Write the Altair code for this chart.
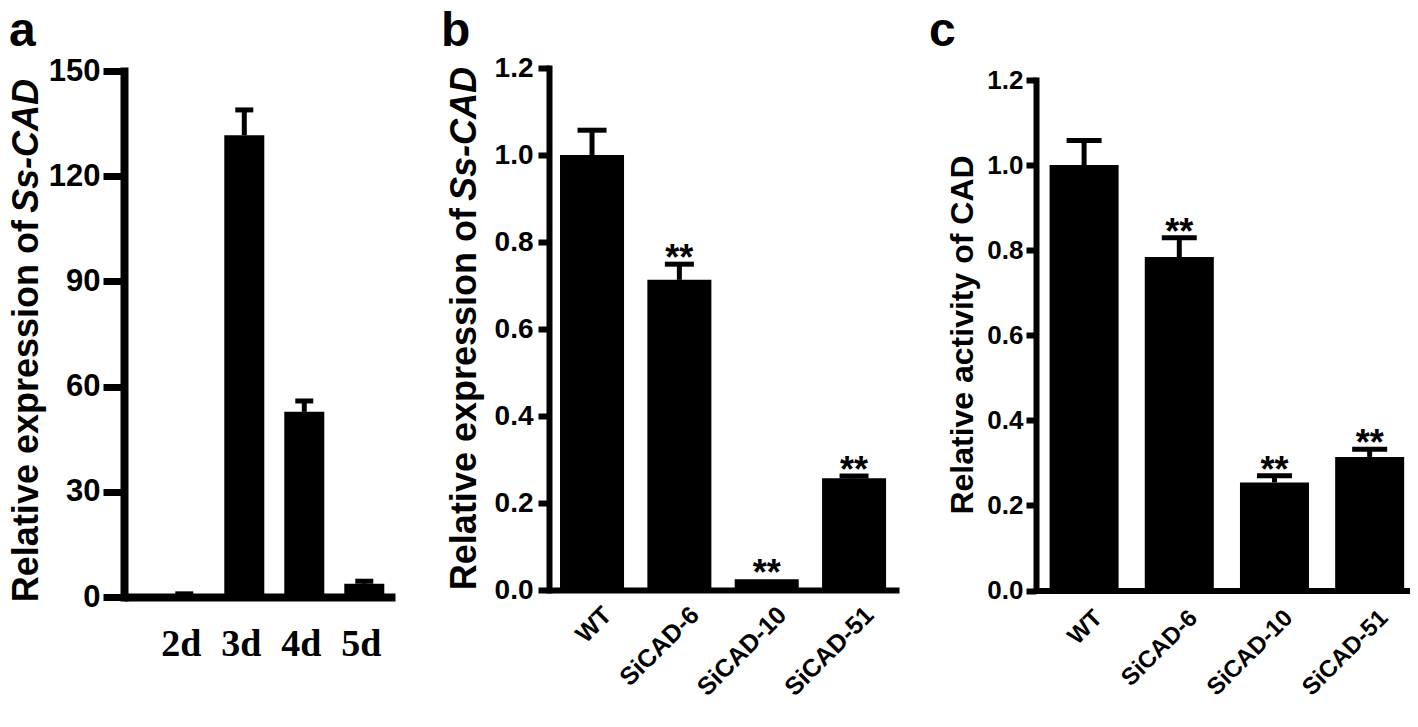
import altair as alt
import pandas as pd

# ---------------- data ----------------
days = ["2d", "3d", "4d", "5d"]
expr_a = [0.5, 131.7, 52.8, 3.8]
err_a = [0.4, 7.2, 3.1, 0.7]
stars_a = ["", "", "", ""]

lines = ["WT", "SiCAD-6", "SiCAD-10", "SiCAD-51"]
expr_b = [1.0, 0.713, 0.025, 0.257]
err_b = [0.057, 0.036, 0.0, 0.005]
stars_b = ["", "**", "**", "**"]

act_c = [1.0, 0.784, 0.254, 0.314]
err_c = [0.058, 0.045, 0.016, 0.018]
stars_c = ["", "**", "**", "**"]

yticks_a = [0, 30, 60, 90, 120, 150]
yticks_bc = [0.0, 0.2, 0.4, 0.6, 0.8, 1.0, 1.2]

SANS = "Liberation Sans, Arial, Helvetica, sans-serif"
SERIF = "Liberation Serif, Times New Roman, serif"

H = 529  # common plot height


def txt(x, y, s, **kw):
    return alt.Chart(pd.DataFrame({"t": [s]})).mark_text(color="black", **kw).encode(
        x=alt.value(x), y=alt.value(y), text="t:N"
    )


def panel(cats, vals, errs, stars, width, yrange, ydomain, yaxis, xaxis, cap,
          pinner, pouter, align, extra, star_size=36):
    df = pd.DataFrame({
        "cat": cats,
        "value": vals,
        "upper": [v + e for v, e in zip(vals, errs)],
        "err": errs,
        "star": stars,
    })
    xs = alt.Scale(domain=cats, paddingInner=pinner, paddingOuter=pouter, align=align)
    ys = alt.Scale(domain=ydomain, range=yrange, nice=False, zero=True)
    base = alt.Chart(df)
    X = lambda ax=None: alt.X("cat:N", sort=cats, scale=xs, title=None,
                               **({"axis": ax} if ax is not None else {}))
    bars = base.mark_bar(color="black").encode(
        x=X(xaxis),
        y=alt.Y("value:Q", scale=ys, title=None, axis=yaxis),
    )
    rule = base.mark_rule(color="black", strokeWidth=5, opacity=1).encode(
        x=X(), y=alt.Y("value:Q", scale=ys, title=None), y2="upper:Q"
    ).transform_filter("datum.err > 0")
    tick = base.mark_tick(color="black", thickness=5, size=cap, opacity=1).encode(
        x=X(), y=alt.Y("upper:Q", scale=ys, title=None)
    ).transform_filter("datum.err > 0")
    star = base.mark_text(font=SANS, fontSize=star_size, fontWeight="bold",
                          baseline="alphabetic", dy=6, color="black").encode(
        x=X(), y=alt.Y("upper:Q", scale=ys, title=None), text="star:N"
    )
    return alt.layer(bars, rule, tick, star, *extra).properties(width=width, height=H)


def spacer(w):
    return alt.Chart(pd.DataFrame({"z": [0]})).mark_point(opacity=0).encode(
        x=alt.X("z:Q", axis=None), y=alt.Y("z:Q", axis=None)
    ).properties(width=w, height=H)


def yaxis(values, fmt, size, tsize, twidth, dwidth, pad):
    return alt.Axis(values=values, format=fmt, labelFont=SANS, labelFontSize=size,
                    labelFontWeight="bold", labelColor="black", tickSize=tsize,
                    tickWidth=twidth, tickColor="black", domainWidth=dwidth,
                    domainColor="black", domainCap="square", labelPadding=pad,
                    grid=False, title=None, labelOverlap=False)


def xaxis_rot(size, dwidth, pad, off, loff):
    return alt.Axis(labelAngle=-45, labelAlign="right", labelBaseline="top",
                    labelFont=SANS, labelFontSize=size, labelFontWeight="bold",
                    labelColor="black", ticks=False, tickSize=0, domainWidth=dwidth,
                    domainColor="black", labelPadding=pad, offset=off,
                    labelOffset=loff, labelOverlap=False, title=None, labelLimit=400)


# ---------------- panel a ----------------
a_extra = [
    txt(-86, 152, "Relative expression of", angle=270, align="right", baseline="alphabetic",
        font=SANS, fontSize=36, fontWeight="bold"),
    txt(-86, 145, "Ss-CAD", angle=270, align="left", baseline="alphabetic",
        font=SANS, fontSize=36, fontWeight="bold", fontStyle="italic"),
    txt(-115, -22, "a", align="left", baseline="alphabetic", font=SANS, fontSize=48,
        fontWeight="bold"),
]
pa = panel(
    days, expr_a, err_a, stars_a, 271, [529, 3], [0, 150],
    yaxis(yticks_a, "d", 31, 21, 7, 8, 3),
    alt.Axis(labelAngle=0, labelFont=SERIF, labelFontSize=38, labelFontWeight="bold",
             labelColor="black", ticks=False, tickSize=0, domainWidth=8,
             domainColor="black", labelPadding=28, labelBaseline="top",
             labelAlign="center", labelOffset=-3, title=None),
    18, 1 / 3, 0.425, 0.79, a_extra,
)

# ---------------- panel b ----------------
b_extra = [
    txt(-73, 140, "Relative expression of", angle=270, align="right", baseline="alphabetic",
        font=SANS, fontSize=36, fontWeight="bold"),
    txt(-73, 133, "Ss-CAD", angle=270, align="left", baseline="alphabetic",
        font=SANS, fontSize=36, fontWeight="bold", fontStyle="italic"),
    txt(-108, -22, "b", align="left", baseline="alphabetic", font=SANS, fontSize=48,
        fontWeight="bold"),
]
pb = panel(
    lines, expr_b, err_b, stars_b, 350, [522, 0], [0, 1.2],
    yaxis(yticks_bc, ".1f", 28, 11, 6, 6, 5),
    xaxis_rot(25, 6, 12, -7, 7),
    29, 0.267, 0.137, 0.46, b_extra,
)

# ---------------- panel c ----------------
c_extra = [
    txt(-63, 267, "Relative activity of CAD", angle=270, align="center",
        baseline="alphabetic", font=SANS, fontSize=32, fontWeight="bold"),
    txt(-107, -22, "c", align="left", baseline="alphabetic", font=SANS, fontSize=48,
        fontWeight="bold"),
]
pc = panel(
    lines, act_c, err_c, stars_c, 374, [522.5, 12], [0, 1.2],
    yaxis(yticks_bc, ".1f", 26, 10, 6, 6, 3),
    xaxis_rot(24, 6, 15, -6.5, 6),
    35, 0.275, 0.102, 0.7, c_extra,
)

chart = alt.hconcat(pa, spacer(154), pb, spacer(137), pc, spacing=0, bounds="flush").properties(
    padding=0, background="white"
).configure_view(stroke=None, strokeWidth=0)

chart.save("out.html", embed_options={"renderer": "svg", "actions": False})
